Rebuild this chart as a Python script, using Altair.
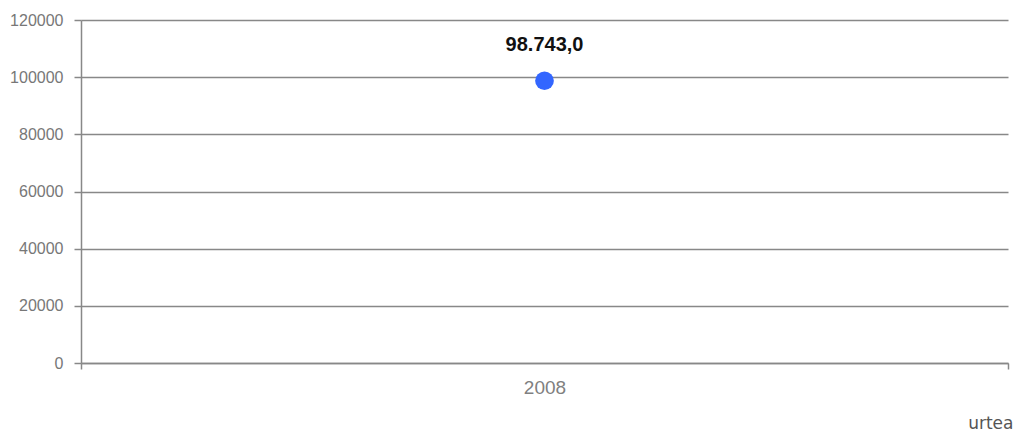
import altair as alt
import pandas as pd

years = ["2008"]
values = [98743.0]
labels = [f"{v:,.1f}".replace(",", "X").replace(".", ",").replace("X", ".") for v in values]
y_ticks = [0, 20000, 40000, 60000, 80000, 100000, 120000]

df = pd.DataFrame({"urtea": years, "value": values, "label": labels})

FONT = "Liberation Sans"
GRAY = "#888888"

x = alt.X(
    "urtea:N",
    title="urtea",
    scale=alt.Scale(paddingInner=0, paddingOuter=0),
    axis=alt.Axis(
        labelAngle=0,
        tickBand="extent",
        tickSize=6,
        tickWidth=1.5,
        domainWidth=1.5,
        domainColor=GRAY,
        tickColor=GRAY,
        labelColor="#808080",
        labelFontSize=19,
        labelFont=FONT,
        labelPadding=9,
        titleFont="DejaVu Sans",
        titleFontSize=17,
        titleFontWeight="normal",
        titleColor="#555555",
        titleAlign="right",
        titleBaseline="alphabetic",
        titleX=932,
        titleY=65,
        grid=False,
    ),
)
y = alt.Y(
    "value:Q",
    title=None,
    scale=alt.Scale(domain=[0, 120000], nice=False),
    axis=alt.Axis(
        values=y_ticks,
        format="d",
        tickSize=7,
        tickWidth=1.5,
        domainWidth=1.5,
        gridWidth=1.5,
        domainColor=GRAY,
        tickColor=GRAY,
        gridColor=GRAY,
        gridOpacity=1,
        labelColor="#777777",
        labelFontSize=16,
        labelFont=FONT,
        labelPadding=11,
    ),
)

points = alt.Chart(df).mark_circle(size=350, color="#3366ff", opacity=1).encode(x=x, y=y)
text = alt.Chart(df).mark_text(
    dy=-36, font=FONT, fontSize=20, fontWeight="bold", color="#111111"
).encode(x=x, y=y, text="label:N")

chart = (
    alt.layer(points, text)
    .properties(
        width=927,
        height=343,
        padding={"left": 73, "top": 12, "right": 7, "bottom": 70},
        autosize=alt.AutoSizeParams(type="none"),
    )
    .configure_view(stroke=None)
)

chart.save("out.html", embed_options={"renderer": "svg", "actions": False})
